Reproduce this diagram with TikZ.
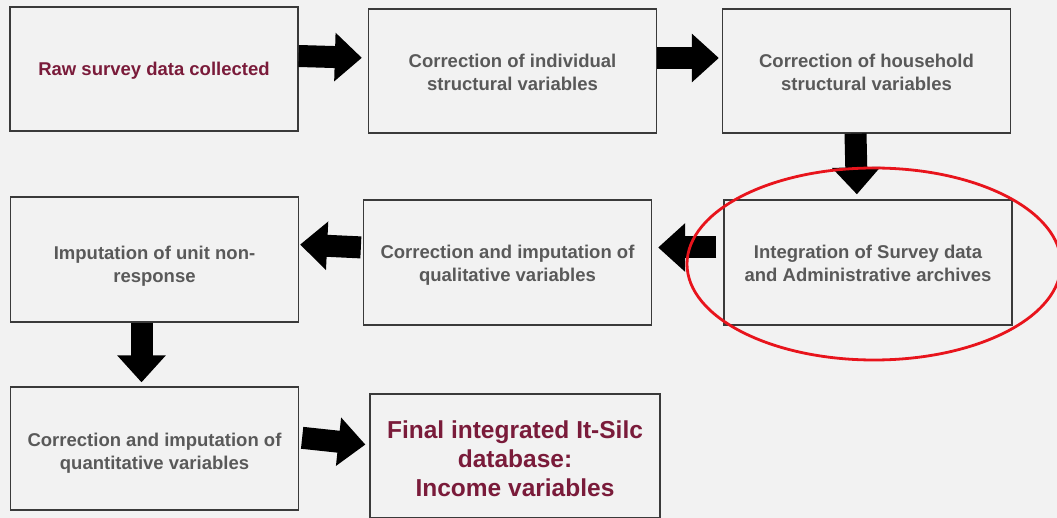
\documentclass[tikz,border=0pt]{standalone}
\usepackage{fontspec}
\setmainfont{Liberation Sans}
\usetikzlibrary{arrows.meta}
\definecolor{bg}{HTML}{F2F2F2}
\definecolor{boxline}{HTML}{3A3A3A}
\definecolor{txtgrey}{HTML}{595959}
\definecolor{maroon}{HTML}{7A1B3A}
\definecolor{ringred}{HTML}{E8141C}
\begin{document}
\begin{tikzpicture}[x=1pt,y=-1pt,
  stepbox/.style={draw=boxline, line width=1.3pt, fill=bg, rectangle,
    minimum width=288pt, minimum height=124pt, inner sep=0pt},
  steptext/.style={align=center, inner sep=0pt, text=txtgrey,
    font=\bfseries\fontsize{18.5}{23}\selectfont},
  keytext/.style={steptext, text=maroon},
  % box with its caption, the caption nudged down by #2
  caption/.style 2 args={label={[steptext, yshift=-#2]center:{#1}}},
  keycaption/.style 2 args={label={[keytext, yshift=-#2]center:{#1}}},
  fat/.style={line width=22pt, draw=black,
    -{Triangle[width=47pt,length=27pt]}}]
  % canvas
  \fill[bg] (0,0) rectangle (1057,518);
  \useasboundingbox (0,0) rectangle (1057,518);

  % processing steps
  \node[stepbox, keycaption={Raw survey data collected}{2pt}] (b1) at (154,69) {};
  \node[stepbox, caption={Correction of individual\\structural variables}{1pt}] (b2) at (512.5,71) {};
  \node[stepbox, caption={Correction of household\\structural variables}{1pt}] (b3) at (866.5,71) {};
  \node[stepbox, minimum height=125pt,
    caption={Integration of Survey data\\and Administrative archives}{1pt}] (b4) at (868,262.5) {};
  \node[stepbox, minimum height=125pt,
    caption={Correction and imputation of\\qualitative variables}{3pt}] (b5) at (507.5,262.5) {};
  \node[stepbox, minimum height=125pt,
    caption={Imputation of unit non-\\response}{6.5pt}] (b6) at (154.5,259.5) {};
  \node[stepbox, minimum height=123pt,
    caption={Correction and imputation of\\quantitative variables}{4.5pt}] (b7) at (154.5,448.5) {};
  \node[stepbox, minimum width=290pt,
    label={[keytext, font=\bfseries\fontsize{24.5}{29}\selectfont, yshift=-3pt]center:{Final integrated It-Silc\\database:\\Income variables}}] (b8) at (515,456) {};

  % flow arrows
  \draw[fat, shorten >=6pt] ([yshift=13pt]b1.east) -- ([yshift=13pt]b2.west);
  \draw[fat, shorten >=3pt] ([yshift=13pt]b2.east) -- ([yshift=13pt]b3.west);
  \draw[fat, shorten >=5pt] ([xshift=-11pt]b3.south) -- ([xshift=-11pt]b4.north);
  \draw[fat, shorten <=7pt, shorten >=6pt] ([yshift=15pt]b4.west) -- ([yshift=15pt]b5.east);
  \draw[fat, shorten <=2pt, shorten >=1pt] ([yshift=15pt]b5.west) -- ([yshift=15pt]b6.east);
  \draw[fat, shorten >=4pt] ([xshift=-13pt]b6.south) -- ([xshift=-13pt]b7.north);
  \draw[fat, shorten <=3pt, shorten >=4pt] ([yshift=11pt]b7.east) -- ([yshift=11pt]b8.west);

  % highlight ring
  \draw[ringred, line width=2.8pt] ([xshift=6pt,yshift=-1.5pt]b4.center) ellipse [x radius=187pt, y radius=96pt];
\end{tikzpicture}
\end{document}
